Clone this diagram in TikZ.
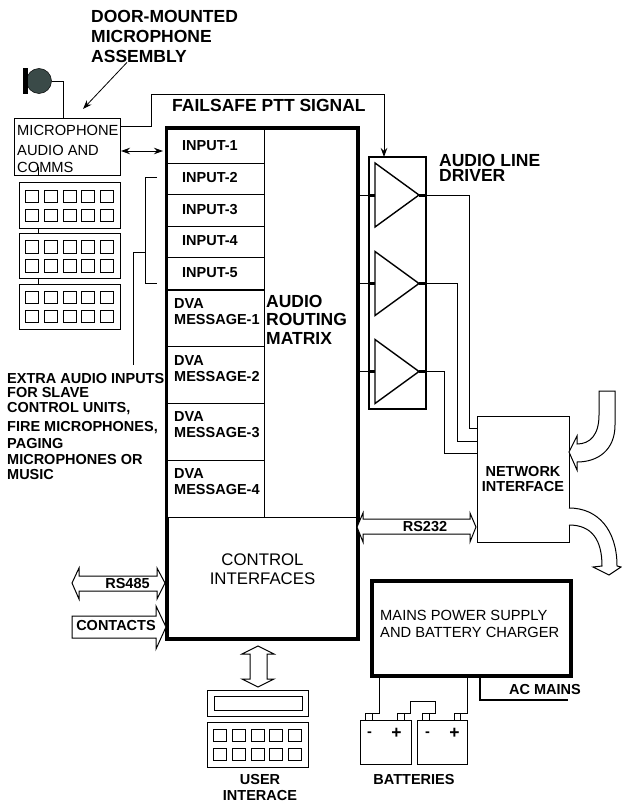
\documentclass[tikz,border=0pt]{standalone}
\usepackage{fontspec}
\setmainfont{Liberation Sans}
\usetikzlibrary{positioning,arrows.meta}
\definecolor{micgrey}{HTML}{3A4A48}
\tikzset{
  plainbox/.style={rectangle, draw, line width=1pt, inner sep=0pt, outer sep=0pt, fill=white},
  rowbox/.style={plainbox, minimum width=97, line width=0.9pt},
  padbox/.style={plainbox, minimum width=101, minimum height=45},
  keycap/.style={draw, line width=1pt, fill=white},
  ampshape/.style={draw, line width=1.4pt, line join=miter, fill=white},
  wire/.style={draw, line width=0.9pt},
  stub/.style={draw, line width=3pt},
  fatarrow/.style={draw, line width=1pt, fill=white, line join=miter},
  bigbold/.style={inner sep=0pt, font=\fontsize{17.5}{20}\selectfont\bfseries, align=left},
  smallbold/.style={inner sep=0pt, font=\fontsize{14.5}{16}\selectfont\bfseries, align=left},
  lighttext/.style={inner sep=0pt, font=\fontsize{14.7}{17}\selectfont, align=left}
}
\begin{document}
\begin{tikzpicture}[>={Stealth[length=9pt,width=6.5pt]}, x=1pt, y=-1pt]
\useasboundingbox (0,0) rectangle (621,805);
% Main nodes
\node (main) [plainbox, line width=3.2pt, minimum width=191, minimum height=511] at (262.5,383.5) {};
\node (driver) [plainbox, line width=1.8pt, minimum width=57, minimum height=252] at (397.5,283) {};
\node (net) [plainbox, minimum width=92, minimum height=126, font=\fontsize{14.5}{15}\selectfont\bfseries, align=center] at (523,479) {NETWORK\\INTERFACE};
\node (power) [plainbox, line width=4pt, minimum width=199, minimum height=95] at (471.5,628.5) {};
\node (micbox) [plainbox, minimum width=106, minimum height=57] at (67,147.5) {};

% Routing matrix rows
\foreach \n/\y/\h/\t in {1/146/34/146,2/179/32/177.5,3/210.5/32/209.5,4/242/32/241,5/273.5/32/272.5} {
  \node (input\n) [rowbox, minimum height=\h] at (215.5,\y) {};
  \node (inputtext\n) [smallbold, anchor=west] at (182,\t) {INPUT-\n};
}
\foreach \n/\y in {1/318.5,2/375,3/431.5,4/488.5} {
  \node (dva\n) [rowbox, minimum height=57] at (215.5,\y) {};
  \node (dvatext\n) [smallbold, anchor=west] at (174,\y-6.5) {DVA\\MESSAGE-\n};
}
\draw [wire] (dva4.south west) -- (main.east |- dva4.south);
\draw [line width=1.6pt] (dva1.north west) -- (dva1.north east);

% Texts
\node (door) [bigbold, anchor=west] at (91,36) {DOOR-MOUNTED\\MICROPHONE\\ASSEMBLY};
\node (failsafe) [bigbold, anchor=west] at (172,105) {FAILSAFE PTT SIGNAL};
\node (routing) [bigbold, anchor=west, font=\fontsize{17.5}{18.5}\selectfont\bfseries] at (266,319.5) {AUDIO\\ROUTING\\MATRIX};
\node (linedriver) [bigbold, anchor=west, font=\fontsize{17.5}{15}\selectfont\bfseries] at (439,167.5) {AUDIO LINE\\DRIVER};
\node (mictext) [lighttext, anchor=west, font=\fontsize{14.7}{18.5}\selectfont] at (17,148.5) {MICROPHONE\\[1.5pt]AUDIO AND\\[-1.5pt]COMMS};
\node (extra) [smallbold, anchor=north west] at (7,373) {EXTRA AUDIO INPUTS\\[-1.5pt]FOR SLAVE\\[-1.5pt]CONTROL UNITS,\\[2.7pt]FIRE MICROPHONES,\\[1.3pt]PAGING\\[0pt]MICROPHONES OR\\[-1pt]MUSIC};
\node (control) [lighttext, align=center, font=\fontsize{16.8}{19}\selectfont] at (262.5,569.5) {CONTROL\\INTERFACES};
\node (powertext) [lighttext, anchor=west] at (380,623.5) {MAINS POWER SUPPLY\\AND BATTERY CHARGER};
\node (acmains) [smallbold, anchor=west] at (509,690) {AC MAINS};
\node (batteries) [smallbold] at (414,779) {BATTERIES};
\node (user) [smallbold, align=center] at (260,787.5) {USER\\INTERACE};

% Door microphone
\node (mic) [circle, fill=micgrey, draw=black, line width=0.5pt, inner sep=0pt, outer sep=0pt, minimum size=25] at (39,81) {};
\node (micbar) [rectangle, fill=black, inner sep=0pt, outer sep=0pt, minimum width=5, minimum height=26] at (25.5,81) {};
\draw [wire] (mic.east) -| (63,0 |- micbox.north);
\coordinate (doorend) at (83,109);
\draw [->, line width=0.8pt] (door.south -| 127,0) -- (doorend);

% Mic box connections
\coordinate (input1left) at (163,151);
\draw [<->, line width=0.9pt] (micbox.east |- input1left) ++(1,0) -- (input1left);
\draw [->, wire] (micbox.east |- 0,126) -- (151,126) -- (151,94) -| (384,0 |- driver.north);
\draw [wire] (38,0 |- micbox.south) -- ++(0,-9);

% Keypads
\foreach \p/\cx/\cy in {pad1/69.5/205.5, pad2/69.5/256, pad3/69.5/306.5, pad4/257.5/744.5} {
  \node (\p) [padbox] at (\cx,\cy) {};
  \foreach \i in {0,...,4}
    \foreach \r in {7,26}
      \draw [keycap] (\p.north west) ++(6.5+18.8*\i,\r) rectangle ++(13,12.5);
}
\draw [wire] (38,0 |- pad1.south) -- (38,0 |- pad2.north);
\draw [wire] (38,0 |- pad2.south) -- (38,0 |- pad3.north);
\node (display) [plainbox, minimum width=101, minimum height=26] at (257.5,703) {};
\node (displaywin) [plainbox, minimum width=88, minimum height=14] at (258,703) {};

% Extra audio bracket
\coordinate (brackettop) at (157,177);
\coordinate (bracketbot) at (157,283);
\coordinate (bracketmid) at (145,252);
\coordinate (extraend) at (133,365);
\draw [wire] (brackettop) -- ++(-12,0) |- (bracketbot);
\draw [wire] (bracketmid) -| (extraend);

% Line driver amps
\foreach \n/\y in {1/195,2/283.5,3/371.5} {
  \coordinate (amp\n) at (375,\y);
  \coordinate (tip\n) at (419,\y);
  \draw [wire] (main.east |- amp\n) -- (driver.west |- amp\n);
  \draw [stub] (driver.west |- amp\n) -- (amp\n);
  \draw [stub] (tip\n) -- (driver.east |- tip\n);
  \draw [ampshape] (tip\n) -- ++(-44,-32) -- ++(0,64) -- cycle;
}
\draw [wire] (driver.east |- tip1) -- ++(43,0) |- (net.west |- 0,428);
\draw [wire] (driver.east |- tip2) -- ++(31,0) |- (net.west |- 0,441);
\draw [wire] (driver.east |- tip3) -- ++(18,0) |- (net.west |- 0,453);

% Network arrows
\draw [fatarrow] (599,391) -- (615,391) -- (615,425) .. controls (615,450) and (598,462) .. (577,462) -- (577,470) -- (net.east |- 0,452) -- (577,436) -- (577,444) .. controls (590,444) and (599,435) .. (599,415) -- cycle;
\draw [fatarrow] (net.east |- 0,508) .. controls (598,508) and (617,530) .. (617,566) -- (621,567) -- (609,575) -- (593,567) -- (602,566) .. controls (602,540) and (592,525) .. (net.east |- 0,525);

% Bus arrows
\coordinate (rsa) at (357,527);
\draw [fatarrow] (rsa) -- ++(6,-14) -- ++(0,6) -- ++(107,0) -- ++(0,-6) -- ++(6,14) -- ++(-6,15) -- ++(0,-8) -- ++(-107,0) -- ++(0,8) -- cycle;
\node (rs232) [smallbold] at (425,527) {RS232};
\coordinate (rsb) at (72,583);
\draw [fatarrow] (rsb) -- ++(7,-15) -- ++(0,8) -- ++(78,0) -- ++(0,-8) -- ++(8,15) -- ++(-8,16) -- ++(0,-8) -- ++(-78,0) -- ++(0,8) -- cycle;
\node (rs485) [smallbold] at (127.5,584) {RS485};
\coordinate (contacta) at (72,616);
\draw [fatarrow] (contacta) -- ++(84,0) -- ++(0,-10) -- ++(10,21) -- ++(-10,22) -- ++(0,-11) -- ++(-84,0) -- cycle;
\node (contacts) [smallbold] at (116,626) {CONTACTS};
\coordinate (usertip) at (258,646);
\draw [fatarrow] (usertip) -- ++(16,8) -- ++(-7,0) -- ++(0,25) -- ++(7,0) -- ++(-16,8) -- ++(-16,-8) -- ++(8,0) -- ++(0,-25) -- ++(-8,0) -- cycle;

% Batteries
\node (batt1) [plainbox, minimum width=51, minimum height=44] at (385.5,742) {};
\node (batt2) [plainbox, minimum width=50, minimum height=44] at (442,742) {};
\foreach \t/\x in {b1neg/369, b1pos/401, b2neg/426, b2pos/457.5}
  \node (\t) [plainbox, minimum width=6.5, minimum height=7] at (\x,716.5) {};
\node (minus1) [smallbold] at (369.5,734) {-};
\node (plus1) [smallbold, font=\fontsize{17.5}{18}\selectfont\bfseries] at (396.5,733) {+};
\node (minus2) [smallbold] at (427.5,734) {-};
\node (plus2) [smallbold, font=\fontsize{17.5}{18}\selectfont\bfseries] at (454.5,733) {+};
\draw [wire] (379,0 |- power.south) |- (b1neg.north east);
\draw [wire] (467,0 |- power.south) |- (b2pos.north east);
\draw [wire] (b1pos.north east) -- ++(6,0) -- ++(0,-12) -- ++(25,0) -- ++(0,12) -- (b2neg.north east);
\coordinate (acend) at (568,700);
\draw [line width=2.4pt] (480,0 |- power.south) |- (acend);
\end{tikzpicture}
\end{document}
